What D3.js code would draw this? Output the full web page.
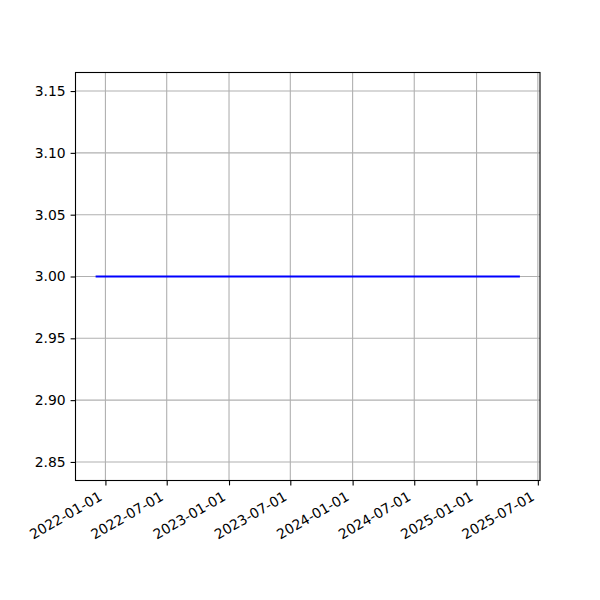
<!DOCTYPE html>
<html><head><meta charset="utf-8">
<script src="https://cdn.jsdelivr.net/npm/d3@7"></script>
<style>body{margin:0;background:#fff}text{font-family:"DejaVu Sans",sans-serif}</style>
</head><body><svg id="c" width="600" height="600"></svg>
<script>
const dates = ["2021-12-06","2022-06-06","2022-12-06","2023-06-06","2023-12-06","2024-06-06","2024-12-06","2025-05-06"];
const values = [3, 3, 3, 3, 3, 3, 3, 3];
const xTickLabels = ["2022-01-01","2022-07-01","2023-01-01","2023-07-01","2024-01-01","2024-07-01","2025-01-01","2025-07-01"];
const yTicks = [2.85, 2.90, 2.95, 3.00, 3.05, 3.10, 3.15];

const parse = d3.utcParse("%Y-%m-%d");
const data = dates.map((d,i)=>({x:parse(d), y:values[i]}));
const L=75.5, R=540, T=72.5, B=480.5;
const svg = d3.select("#c");
const fs = 13.9;

const x0 = d3.min(data,d=>d.x), x1 = d3.max(data,d=>d.x);
const span = x1 - x0;
const x = d3.scaleUtc().domain([new Date(+x0 - span*0.05), new Date(+x1 + span*0.05)]).range([L, R]);
const y = d3.scaleLinear().domain([2.835, 3.165]).range([B, T]);

const xt = xTickLabels.map(parse);
// grid
svg.append("g").selectAll("line").data(xt).join("line")
  .attr("x1",d=>x(d)).attr("x2",d=>x(d)).attr("y1",T).attr("y2",B)
  .attr("stroke","#b0b0b0").attr("stroke-width",1.1);
svg.append("g").selectAll("line").data(yTicks).join("line")
  .attr("x1",L).attr("x2",R).attr("y1",d=>y(d)).attr("y2",d=>y(d))
  .attr("stroke","#b0b0b0").attr("stroke-width",1.1);

// line
svg.append("path").datum(data)
  .attr("d", d3.line().x(d=>x(d.x)).y(d=>y(d.y)))
  .attr("fill","none").attr("stroke","#0000ff").attr("stroke-width",2).attr("stroke-linecap","square");

// axes frame
svg.append("rect").attr("x",L).attr("y",T).attr("width",R-L).attr("height",B-T)
  .attr("fill","none").attr("stroke","#000").attr("stroke-width",1.1);

// y axis
const yAxis = d3.axisLeft(y).tickValues(yTicks).tickFormat(d3.format(".2f")).tickSize(4.9).tickPadding(4.9);
const gy = svg.append("g").attr("transform",`translate(${L},0)`).call(yAxis);
gy.select(".domain").remove();
gy.selectAll("line").attr("stroke","#000").attr("stroke-width",1.1);
gy.selectAll("text").attr("font-size",fs).attr("fill","#000").attr("font-family","DejaVu Sans");

// x axis ticks
const xAxis = d3.axisBottom(x).tickValues(xt).tickFormat((d,i)=>xTickLabels[i]).tickSize(4.9).tickPadding(0);
const gx = svg.append("g").attr("transform",`translate(0,${B})`).call(xAxis);
gx.select(".domain").remove();
gx.selectAll("line").attr("stroke","#000").attr("stroke-width",1.1);
gx.selectAll("text").attr("font-size",fs).attr("fill","#000").attr("font-family","DejaVu Sans")
  .attr("text-anchor","end").attr("dy",null).attr("y",0)
  .attr("transform",`translate(${-0.5*fs*1.16},${9.8}) rotate(-30)`)
  .attr("dominant-baseline","hanging");
</script></body></html>
